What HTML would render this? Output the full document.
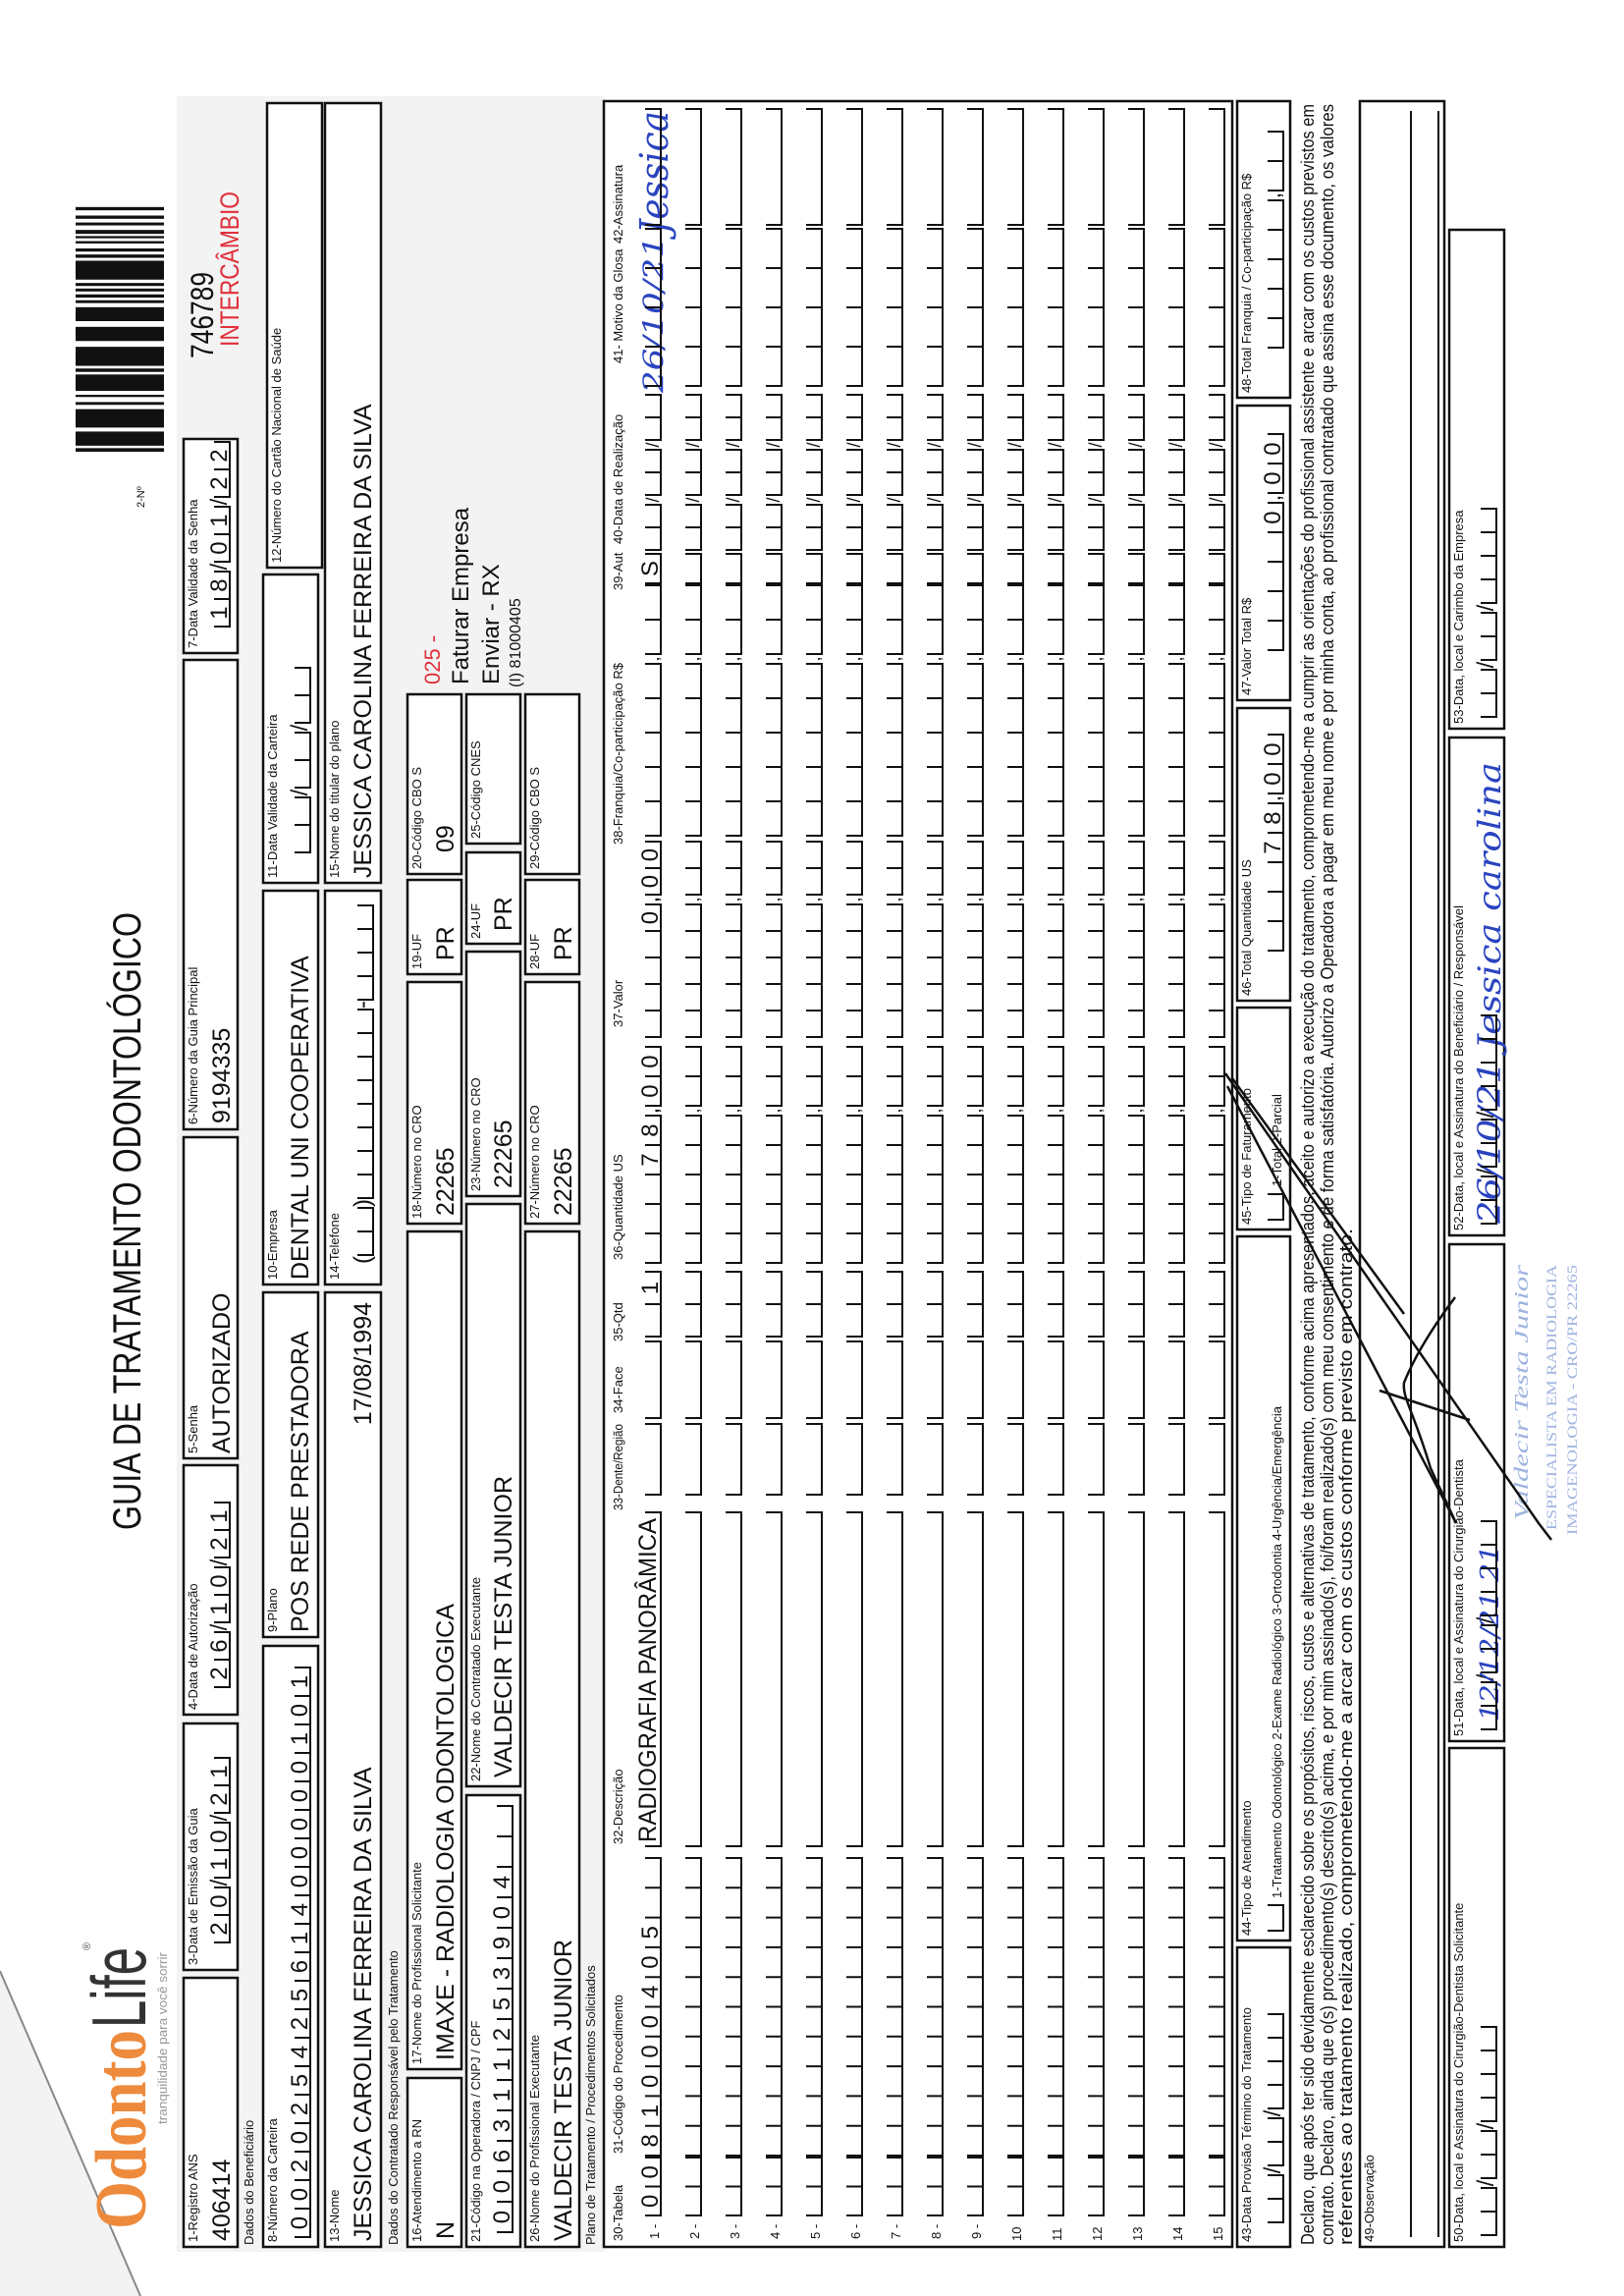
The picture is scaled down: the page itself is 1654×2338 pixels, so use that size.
<!DOCTYPE html>
<html><head><meta charset="utf-8">
<style>
html,body{margin:0;padding:0;background:#fff;}
svg{display:block}
text{font-family:"Liberation Sans Narrow","Liberation Sans",sans-serif;fill:#111}
.l{font-size:13px}
.v{font-size:25px}
.dg{font-size:24px}
.hw{font-family:"DejaVu Serif","Liberation Serif",serif;font-style:italic;fill:#2a44c0}
.bx{fill:#fff;stroke:#111;stroke-width:2.5}
</style></head><body>
<svg id="s" width="1654" height="2338" viewBox="0 0 1654 2338" xmlns="http://www.w3.org/2000/svg">
<rect width="1654" height="2338" fill="#fff"/>
<g id="L" transform="translate(0,2338) rotate(-90)">
<polygon points="0,0 331,0 0,143" fill="#f3f3f3"/>
<line x1="331" y1="0" x2="0" y2="143" stroke="#888" stroke-width="2"/>
<rect x="45" y="180" width="2195" height="436" fill="#f3f3f3"/>
<text x="68" y="148" style="font-family:'Liberation Serif',serif;font-size:74px;font-weight:bold;fill:#ee8a3c" textLength="203" lengthAdjust="spacingAndGlyphs">Odonto</text>
<text x="273" y="148" style="font-size:78px;fill:#333" textLength="82" lengthAdjust="spacingAndGlyphs">Life</text>
<text x="352" y="92" style="font-size:11px;fill:#555">®</text>
<text x="175" y="170" style="font-size:13px;fill:#999" textLength="175" lengthAdjust="spacingAndGlyphs">tranquilidade para você sorrir</text>
<text x="780" y="143" style="font-family:'Liberation Sans',sans-serif;font-size:40px" textLength="629" lengthAdjust="spacingAndGlyphs">GUIA DE TRATAMENTO ODONTOLÓGICO</text>
<text x="1821" y="147" style="font-size:11px">2-Nº</text>
<g id="barcode"></g>
<text x="1973" y="217" style="font-family:'Liberation Sans',sans-serif;font-size:32px" textLength="88" lengthAdjust="spacingAndGlyphs">746789</text>
<text x="1985" y="243" style="font-family:'Liberation Sans',sans-serif;font-size:27px;fill:#e0303a" textLength="158" lengthAdjust="spacingAndGlyphs">INTERCÂMBIO</text>

<rect class="bx" x="50" y="187" width="274" height="55"/>
<text class="l" x="55" y="201">1-Registro ANS</text><text class="v" x="56" y="234">406414</text>
<rect class="bx" x="332" y="187" width="251" height="55"/>
<text class="l" x="337" y="201">3-Data de Emissão da Guia</text>
<text class="dg" data-u="360" data-w="28" data-p="dd/dd/dd" data-vb="234">20/10/21</text>
<rect class="bx" x="592" y="187" width="254" height="55"/>
<text class="l" x="597" y="201">4-Data de Autorização</text>
<text class="dg" data-u="620" data-w="28" data-p="dd/dd/dd" data-vb="234">26/10/21</text>
<rect class="bx" x="853" y="187" width="327" height="55"/>
<text class="l" x="858" y="201">5-Senha</text><text class="v" x="858" y="234">AUTORIZADO</text>
<rect class="bx" x="1188" y="187" width="478" height="55"/>
<text class="l" x="1193" y="201">6-Número da Guia Principal</text><text class="v" x="1194" y="234">9194335</text>
<rect class="bx" x="1673" y="187" width="218" height="55"/>
<text class="l" x="1678" y="201">7-Data Validade da Senha</text>
<text class="dg" data-u="1700" data-w="28" data-p="dd/dd/dd" data-vb="234">18/01/22</text>

<text class="l" x="52" y="258">Dados do Beneficiário</text>
<rect class="bx" x="50" y="268" width="612" height="56"/>
<text class="l" x="55" y="282">8-Número da Carteira</text>
<text class="dg" data-u="60" data-w="29" data-p="dddddddddddddddddddd" data-vb="316">00202542561400000101</text>
<rect class="bx" x="671" y="268" width="351" height="56"/>
<text class="l" x="676" y="282">9-Plano</text><text class="v" x="676" y="314">POS REDE PRESTADORA</text>
<rect class="bx" x="1030" y="268" width="401" height="56"/>
<text class="l" x="1035" y="282">10-Empresa</text><text class="v" x="1035" y="314">DENTAL UNI  COOPERATIVA</text>
<rect class="bx" x="1439" y="268" width="314" height="56"/>
<text class="l" x="1444" y="282">11-Data Validade da Carteira</text>
<text class="dg" data-u="1470" data-w="28" data-p="dd/dd/dd" data-vb="316">//</text>
<rect class="bx" x="1760" y="272" width="473" height="56"/>
<text class="l" x="1765" y="286">12-Número do Cartão Nacional de Saúde</text>
<rect class="bx" x="50" y="331" width="972" height="57"/>
<text class="l" x="55" y="345">13-Nome</text><text class="v" x="56" y="378">JESSICA CAROLINA FERREIRA DA SILVA</text>
<text class="v" x="1012" y="378" text-anchor="end">17/08/1994</text>
<rect class="bx" x="1030" y="331" width="401" height="57"/>
<text class="l" x="1035" y="345">14-Telefone</text>
<text class="dg" data-u="1050" data-w="24" data-p="(dd)dddddddd-dddd" data-vb="380">()-</text>
<rect class="bx" x="1439" y="331" width="794" height="57"/>
<text class="l" x="1444" y="345">15-Nome do titular do plano</text><text class="v" x="1444" y="378">JESSICA CAROLINA FERREIRA DA SILVA</text>

<text class="l" x="52" y="405">Dados do Contratado Responsável pelo Tratamento</text>
<rect class="bx" x="50" y="415" width="172" height="55"/>
<text class="l" x="55" y="429">16-Atendimento a RN</text><text class="v" x="58" y="462">N</text>
<rect class="bx" x="231" y="415" width="853" height="55"/>
<text class="l" x="236" y="429">17-Nome do Profissional Solicitante</text><text class="v" x="240" y="462">IMAXE - RADIOLOGIA ODONTOLOGICA</text>
<rect class="bx" x="1092" y="415" width="246" height="55"/>
<text class="l" x="1097" y="429">18-Número no CRO</text><text class="v" x="1100" y="462">22265</text>
<rect class="bx" x="1346" y="415" width="96" height="55"/>
<text class="l" x="1351" y="429">19-UF</text><text class="v" x="1360" y="462">PR</text>
<rect class="bx" x="1448" y="415" width="183" height="55"/>
<text class="l" x="1453" y="429">20-Código CBO S</text><text class="v" x="1470" y="462">09</text>
<text x="1641" y="448" style="font-family:'Liberation Sans',sans-serif;font-size:22px;fill:#e0303a">025 -</text>
<text x="1641" y="477" style="font-family:'Liberation Sans',sans-serif;font-size:24px">Faturar Empresa</text>
<text x="1641" y="508" style="font-family:'Liberation Sans',sans-serif;font-size:24px">Enviar - RX</text>
<text x="1638" y="530" style="font-family:'Liberation Sans',sans-serif;font-size:16px">(I) 81000405</text>
<rect class="bx" x="50" y="475" width="460" height="55"/>
<text class="l" x="55" y="489">21-Código na Operadora / CNPJ / CPF</text>
<text class="dg" data-u="65" data-w="31" data-p="dddddddddddddd" data-vb="522">006311253904</text>
<rect class="bx" x="519" y="475" width="593" height="55"/>
<text class="l" x="524" y="489">22-Nome do Contratado Executante</text><text class="v" x="528" y="521">VALDECIR TESTA JUNIOR</text>
<rect class="bx" x="1120" y="475" width="249" height="55"/>
<text class="l" x="1125" y="489">23-Número no CRO</text><text class="v" x="1128" y="521">22265</text>
<rect class="bx" x="1377" y="475" width="93" height="55"/>
<text class="l" x="1382" y="489">24-UF</text><text class="v" x="1390" y="521">PR</text>
<rect class="bx" x="1479" y="475" width="152" height="55"/>
<text class="l" x="1484" y="489">25-Código CNES</text>
<rect class="bx" x="50" y="535" width="1034" height="55"/>
<text class="l" x="55" y="549">26-Nome do Profissional Executante</text><text class="v" x="56" y="582">VALDECIR TESTA JUNIOR</text>
<rect class="bx" x="1092" y="535" width="246" height="55"/>
<text class="l" x="1097" y="549">27-Número no CRO</text><text class="v" x="1100" y="582">22265</text>
<rect class="bx" x="1346" y="535" width="96" height="55"/>
<text class="l" x="1351" y="549">28-UF</text><text class="v" x="1360" y="582">PR</text>
<rect class="bx" x="1448" y="535" width="183" height="55"/>
<text class="l" x="1453" y="549">29-Código CBO S</text>

<text class="l" x="52" y="606">Plano de Tratamento / Procedimentos Solicitados</text>
<rect class="bx" x="50" y="615" width="2185" height="640"/>
<text class="l" x="56" y="634">30-Tabela</text>
<text class="l" x="145" y="634">31-Código do Procedimento</text>
<text class="l" x="460" y="634">32-Descrição</text>
<text class="l" x="800" y="634" textLength="88" lengthAdjust="spacingAndGlyphs">33-Dente/Região</text>
<text class="l" x="899" y="634">34-Face</text>
<text class="l" x="972" y="634">35-Qtd</text>
<text class="l" x="1055" y="634">36-Quantidade US</text>
<text class="l" x="1292" y="634">37-Valor</text>
<text class="l" x="1478" y="634">38-Franquia/Co-participação R$</text>
<text class="l" x="1737" y="634">39-Aut</text>
<text class="l" x="1784" y="634">40-Data de Realização</text>
<text class="l" x="1968" y="634">41- Motivo da Glosa</text>
<text class="l" x="2090" y="634">42-Assinatura</text>
<text class="l" x="58" y="671">1 -</text><text class="l" x="58" y="712">2 -</text><text class="l" x="58" y="753">3 -</text>
<text class="l" x="58" y="794">4 -</text><text class="l" x="58" y="835">5 -</text><text class="l" x="58" y="876">6 -</text>
<text class="l" x="58" y="917">7 -</text><text class="l" x="58" y="958">8 -</text><text class="l" x="58" y="999">9 -</text>
<text class="l" x="56" y="1040">10</text><text class="l" x="56" y="1081">11</text><text class="l" x="56" y="1122">12</text>
<text class="l" x="56" y="1163">13</text><text class="l" x="56" y="1204">14</text><text class="l" x="56" y="1245">15</text>
<text class="dg" data-u="82" data-w="29.5" data-p="dd" data-vb="673" data-nodraw="1">00</text>
<text class="dg" data-u="143" data-w="30.3" data-p="dddddddddd" data-vb="673" data-nodraw="1">81000405</text>
<text class="v" x="462" y="668" textLength="330" lengthAdjust="spacingAndGlyphs">RADIOGRAFIA PANORÂMICA</text>
<text class="dg" data-u="977" data-w="33" data-p="dd" data-vb="673" data-nodraw="1">_1</text>
<text class="dg" data-u="1052" data-w="30" data-p="ddddd,dd" data-vb="673" data-nodraw="1">___78,00</text>
<text class="dg" data-u="1282" data-w="27" data-p="ddddd,dd" data-vb="673" data-nodraw="1">____0,00</text>
<text class="dg" data-u="1744" data-w="30" data-p="d" data-vb="673" data-nodraw="1">S</text>
<text class="hw" x="1938" y="675" style="font-size:28px" textLength="160" lengthAdjust="spacingAndGlyphs">26/10/21</text>
<text class="hw" x="2100" y="680" style="font-size:40px" textLength="125" lengthAdjust="spacingAndGlyphs">Jessica</text>

<rect class="bx" x="50" y="1260" width="305" height="54"/>
<text class="l" x="55" y="1274">43-Data Provisão Término do Tratamento</text>
<text class="dg" data-u="75" data-w="24" data-p="dd/dd/dddd" data-vb="1307">//</text>
<rect class="bx" x="362" y="1260" width="717" height="54"/>
<text class="l" x="367" y="1274">44-Tipo de Atendimento</text>
<text class="dg" data-u="372" data-w="26" data-p="d" data-vb="1307"></text>
<text class="l" x="405" y="1305">1-Tratamento Odontológico  2-Exame Radiológico  3-Ortodontia  4-Urgência/Emergência</text>
<rect class="bx" x="1086" y="1260" width="226" height="54"/>
<text class="l" x="1091" y="1274">45-Tipo de Faturamento</text>
<text class="dg" data-u="1096" data-w="26" data-p="d" data-vb="1307"></text>
<text class="l" x="1130" y="1305">1-Total  2-Parcial</text>
<rect class="bx" x="1319" y="1260" width="298" height="54"/>
<text class="l" x="1324" y="1274">46-Total Quantidade US</text>
<text class="dg" data-u="1370" data-w="30" data-p="ddddd,dd" data-vb="1307">___78,00</text>
<rect class="bx" x="1625" y="1260" width="300" height="54"/>
<text class="l" x="1630" y="1274">47-Valor Total R$</text>
<text class="dg" data-u="1676" data-w="30" data-p="ddddd,dd" data-vb="1307">____0,00</text>
<rect class="bx" x="1933" y="1260" width="302" height="54"/>
<text class="l" x="1938" y="1274">48-Total Franquia / Co-participação R$</text>
<text class="dg" data-u="1984" data-w="30" data-p="ddddd,dd" data-vb="1307">,</text>

<g style="font-family:'Liberation Sans',sans-serif">
<text x="52" y="1338" style="font-size:18px" textLength="2180" lengthAdjust="spacingAndGlyphs">Declaro, que após ter sido devidamente esclarecido sobre os propósitos, riscos, custos e alternativas de tratamento, conforme acima apresentados, aceito e autorizo a execução do tratamento, comprometendo-me a cumprir as orientações do profissional assistente e arcar com os custos previstos em</text>
<text x="52" y="1358" style="font-size:18px" textLength="2180" lengthAdjust="spacingAndGlyphs">contrato. Declaro, ainda que o(s) procedimento(s) descrito(s) acima, e por mim assinado(s), foi/foram realizado(s) com meu consentimento e de forma satisfatória. Autorizo a Operadora a pagar em meu nome e por minha conta, ao profissional contratado que assina esse documento, os valores</text>
<text x="52" y="1377" style="font-size:18px" textLength="1035" lengthAdjust="spacingAndGlyphs">referentes ao tratamento realizado, comprometendo-me a arcar com os custos conforme previsto em contrato.</text>
</g>
<rect class="bx" x="50" y="1385" width="2185" height="86"/>
<text class="l" x="55" y="1399">49-Observação</text>
<line x1="60" y1="1437" x2="2225" y2="1437" stroke="#111" stroke-width="2"/>
<line x1="60" y1="1465" x2="2225" y2="1465" stroke="#111" stroke-width="2"/>
<rect class="bx" x="50" y="1476" width="508" height="56"/>
<text class="l" x="55" y="1490">50-Data, local e Assinatura do Cirurgião-Dentista Solicitante</text>
<text class="dg" data-u="62" data-w="24" data-p="dd/dd/dddd" data-vb="1524">//</text>
<rect class="bx" x="565" y="1476" width="506" height="56"/>
<text class="l" x="570" y="1490">51-Data, local e Assinatura do Cirurgião-Dentista</text>
<text class="dg" data-u="577" data-w="24" data-p="dd/dd/dddd" data-vb="1524">//</text>
<text class="hw" x="585" y="1526" style="font-size:26px" textLength="180" lengthAdjust="spacingAndGlyphs">12/12/21 21</text>
<rect class="bx" x="1080" y="1476" width="507" height="56"/>
<text class="l" x="1085" y="1490">52-Data, local e Assinatura do Beneficiário / Responsável</text>
<text class="dg" data-u="1092" data-w="24" data-p="dd/dd/dddd" data-vb="1524">//</text>
<text class="hw" x="1092" y="1528" style="font-size:32px" textLength="470" lengthAdjust="spacingAndGlyphs">26/10/21 Jessica carolina</text>
<rect class="bx" x="1596" y="1476" width="508" height="56"/>
<text class="l" x="1601" y="1490">53-Data, local e Carimbo da Empresa</text>
<text class="dg" data-u="1608" data-w="24" data-p="dd/dd/dddd" data-vb="1524">//</text>
<text x="790" y="1556" style="font-family:'Liberation Serif',serif;font-size:20px;font-style:italic;fill:#9fb3e0" textLength="260" lengthAdjust="spacingAndGlyphs">Valdecir Testa Junior</text>
<text x="780" y="1585" style="font-family:'Liberation Serif',serif;font-size:15px;fill:#9fb3e0" textLength="270" lengthAdjust="spacingAndGlyphs">ESPECIALISTA EM RADIOLOGIA</text>
<text x="775" y="1606" style="font-family:'Liberation Serif',serif;font-size:15px;fill:#9fb3e0" textLength="275" lengthAdjust="spacingAndGlyphs">IMAGENOLOGIA - CRO/PR 22265</text>
<path d="M1245,1248 L787,1567 L770,1580 M1232,1250 L787,1483 M1017,1482 C985,1458 955,1440 930,1430 C915,1428 900,1440 843,1457 L787,1483 M922,1405 L892,1497 M1240,1255 L1000,1430" fill="none" stroke="#111" stroke-width="2.5"/>
</g>
</svg>
<script>
(function(){
var NS="http://www.w3.org/2000/svg";
var L=document.getElementById("L");
function layout(u0,w,pat){var u=u0,pos=[],path="";for(var i=0;i<pat.length;i++){var c=pat[i];if(c==="d"){pos.push({k:"d",c:u+w/2});path+="M"+u+",VB-H V VB H"+(u+w)+" V VB-H ";u+=w;}else{pos.push({k:c,c:u+5});u+=10;}}return {pos:pos,path:path};}
function draw(u0,w,pat,vb,h){var r=layout(u0,w,pat);var d=r.path.replace(/VB-H/g,(vb-h)).replace(/VB/g,vb);var p=document.createElementNS(NS,"path");p.setAttribute("d",d);p.setAttribute("fill","none");p.setAttribute("stroke","#111");p.setAttribute("stroke-width","2");L.appendChild(p);return r.pos;}
function place(t,pos,vb){var s=t.textContent,xs=[],out="",p=0;for(var i=0;i<s.length;i++){var c=s[i];if(c==="_"||/[0-9A-Z]/.test(c)){while(p<pos.length&&pos[p].k!=="d")p++;if(p>=pos.length)break;if(c!=="_"){xs.push(pos[p].c);out+=c;}p++;}else{var q=p;while(q<pos.length&&pos[q].k!==c)q++;if(q>=pos.length){q=0;while(q<pos.length&&pos[q].k!==c)q++;}if(q<pos.length){xs.push(pos[q].c);out+=c;p=q+1;}}}
t.textContent=out;t.setAttribute("x",xs.join(" ")||"0");t.setAttribute("y",vb-3);t.setAttribute("text-anchor","middle");}
var els=document.querySelectorAll("text.dg");
for(var i=0;i<els.length;i++){var t=els[i];var u0=+t.dataset.u,w=+t.dataset.w,pat=t.dataset.p,vb=+t.dataset.vb;var pos;if(t.dataset.nodraw){pos=layout(u0,w,pat).pos;}else{pos=draw(u0,w,pat,vb,16);}place(t,pos,vb);}
var specs=[[82,29.5,"dd"],[143,30.3,"dddddddddd"],[458,340,"d"],[816,72,"d"],[894,78,"d"],[977,33,"dd"],[1052,30,"ddddd,dd"],[1282,27,"ddddd,dd"],[1487,35,"ddddd,dd"],[1744,30,"d"],[1778,23,"dd/dd/dd"],[1945,40,"dddd"],[2109,118,"d"]];
for(var r=1;r<=15;r++){var vb=632+41*r;for(var k=0;k<specs.length;k++){var sp=specs[k];var pos=draw(sp[0],sp[1],sp[2],vb,16);
for(var j=0;j<pos.length;j++){if(pos[j].k!=="d"){var tx=document.createElementNS(NS,"text");tx.setAttribute("x",pos[j].c);tx.setAttribute("y",vb-2);tx.setAttribute("text-anchor","middle");tx.setAttribute("font-size","18");tx.textContent=pos[j].k;L.appendChild(tx);}}}}
var bc=document.getElementById("barcode");var u=1878,seed=7;function rnd(){seed=(seed*9301+49297)%233280;return seed/233280;}
while(u<2130){var w=rnd()<0.25?(10+rnd()*10):(2+rnd()*3);if(u+w>2133)break;var re=document.createElementNS(NS,"rect");re.setAttribute("x",u);re.setAttribute("y",77);re.setAttribute("width",w);re.setAttribute("height",90);re.setAttribute("fill","#111");bc.appendChild(re);u+=w+2+rnd()*4;}
})();
</script>
</body></html>
